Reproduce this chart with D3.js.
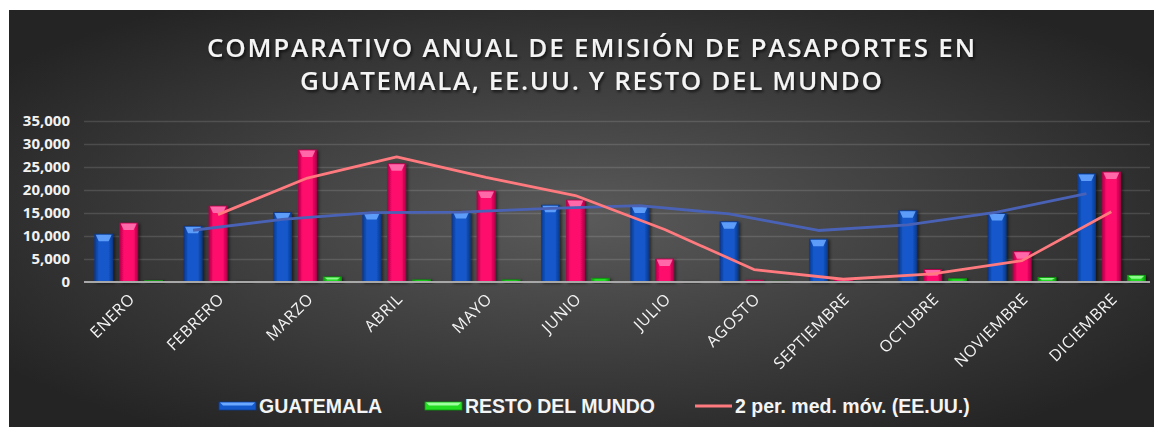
<!DOCTYPE html>
<html>
<head>
	<meta charset="utf-8">
	<title>Pasaportes</title>
	<script type="text/javascript" src="https://cdn.jsdelivr.net/npm/d3@7"></script>
	<style>
		body {
			margin: 0;
			background: #ffffff;
		}
		svg {
			display: block;
		}
	</style>
</head>

<body>

	<div id="chart"></div>

	<script>

		// data

		const months = ["ENERO", "FEBRERO", "MARZO", "ABRIL", "MAYO", "JUNIO",
			"JULIO", "AGOSTO", "SEPTIEMBRE", "OCTUBRE", "NOVIEMBRE", "DICIEMBRE"];
		const guatemala = [10400, 12100, 15100, 15100, 15300, 16700, 16500, 13100, 9300, 15500, 14900, 23500];
		const eeuu      = [12800, 16500, 28700, 25700, 19800, 17800, 5000, 400, 800, 2700, 6600, 23900];
		const resto     = [300, 100, 1100, 450, 450, 800, 100, 150, 100, 700, 1000, 1450];
		const yTicks    = [0, 5000, 10000, 15000, 20000, 25000, 30000, 35000];
		const titleLines = ["COMPARATIVO ANUAL DE EMISIÓN DE PASAPORTES EN", "GUATEMALA, EE.UU. Y RESTO DEL MUNDO"];

		// layout

		const width  = 1154;
		const height = 427;
		const box    = { x: 9, y: 10 };
		const margin = { left: 84, right: -2, top: 121, bottom: 145 };

		const colors = {
			blue:  { base: "#1459cc", dark: "#0b3a8f", light: "#6aa8ff" },
			pink:  { base: "#ff0a6c", dark: "#b8004a", light: "#ff78b4" },
			green: { base: "#22dd22", dark: "#0c9a0c", light: "#9dff9d" }
		};
		const series = [
			{ key: "gt", values: guatemala, color: colors.blue },
			{ key: "us", values: eeuu, color: colors.pink },
			{ key: "rm", values: resto, color: colors.green }
		];

		const svg = d3.select("#chart")
			.append("svg")
			.attr("width", width)
			.attr("height", height)
			.attr("viewBox", [0, 0, width, height]);

		const defs = svg.append("defs");

		const bg = defs.append("radialGradient")
			.attr("id", "bg")
			.attr("cx", "0.5").attr("cy", "0.5").attr("r", "0.62");
		bg.append("stop").attr("offset", "0%").attr("stop-color", "#5a5a5a");
		bg.append("stop").attr("offset", "100%").attr("stop-color", "#242424");

		Object.entries(colors).forEach(([name, c]) => {
			const g = defs.append("linearGradient")
				.attr("id", "grad-" + name)
				.attr("x1", "0").attr("x2", "1").attr("y1", "0").attr("y2", "0");
			g.append("stop").attr("offset", "0%").attr("stop-color", c.dark);
			g.append("stop").attr("offset", "25%").attr("stop-color", c.base);
			g.append("stop").attr("offset", "75%").attr("stop-color", c.base);
			g.append("stop").attr("offset", "100%").attr("stop-color", c.dark);
		});

		const shadow = defs.append("filter").attr("id", "shadow")
			.attr("x", "-20%").attr("y", "-20%").attr("width", "150%").attr("height", "150%");
		shadow.append("feDropShadow")
			.attr("dx", 2).attr("dy", 1).attr("stdDeviation", 1.5)
			.attr("flood-color", "#000").attr("flood-opacity", 0.55);

		const textShadow = defs.append("filter").attr("id", "tshadow")
			.attr("x", "-5%").attr("y", "-30%").attr("width", "110%").attr("height", "170%");
		textShadow.append("feDropShadow")
			.attr("dx", 1.5).attr("dy", 2).attr("stdDeviation", 1.5)
			.attr("flood-color", "#000").attr("flood-opacity", 0.7);

		// background box
		svg.append("rect")
			.attr("x", box.x).attr("y", box.y)
			.attr("width", width - box.x).attr("height", height - box.y)
			.attr("fill", "url(#bg)");

		// title
		const titleCfg = [{ y: 57, len: 768 }, { y: 90, len: 582 }];
		svg.append("g")
			.attr("filter", "url(#tshadow)")
			.selectAll("text")
			.data(titleLines)
			.join("text")
			.attr("x", 591)
			.attr("y", (d, i) => titleCfg[i].y)
			.attr("text-anchor", "middle")
			.attr("textLength", (d, i) => titleCfg[i].len)
			.attr("lengthAdjust", "spacing")
			.attr("font-family", "'Open Sans', sans-serif")
			.attr("font-weight", 600)
			.attr("font-size", 26)
			.attr("fill", "#f4f4f4")
			.text(d => d);

		// scales
		const x = d3.scaleBand(months, [margin.left, width - margin.right]);
		const xs = d3.scaleBand(series.map(s => s.key), [0, x.bandwidth()])
			.paddingInner(0.28)
			.paddingOuter(0.43);
		const y = d3.scaleLinear([0, 35000], [height - margin.bottom, margin.top]);

		// grid + y axis
		svg.append("g")
			.attr("transform", `translate(${margin.left},0)`)
			.call(d3.axisLeft(y).tickValues(yTicks).tickFormat(d3.format(",")).tickSize(0).tickPadding(14))
			.call(g => g.select(".domain").remove())
			.call(g => g.selectAll(".tick text")
				.attr("fill", "#f2f2f2")
				.attr("font-family", "'Open Sans', sans-serif")
				.attr("font-weight", 700)
				.attr("font-size", 15))
			.call(g => g.selectAll(".tick").filter(d => d > 0).append("line")
				.attr("x2", width - margin.left - 4)
				.attr("stroke", "#ffffff")
				.attr("stroke-opacity", 0.13)
				.attr("stroke-width", 1.5));

		// bars
		const groups = svg.append("g")
			.selectAll("g")
			.data(series)
			.join("g")
			.attr("filter", "url(#shadow)");

		const barData = s => s.values.map((v, i) => ({ m: months[i], v, s }));
		const bw = xs.bandwidth();

		groups.each(function (s) {
			const g = d3.select(this);
			const name = s.color === colors.blue ? "blue" : s.color === colors.pink ? "pink" : "green";
			const items = g.selectAll("g").data(barData(s)).join("g");
			items.append("rect")
				.attr("x", d => x(d.m) + xs(s.key))
				.attr("y", d => y(d.v))
				.attr("width", bw)
				.attr("height", d => y(0) - y(d.v))
				.attr("fill", `url(#grad-${name})`)
				.attr("stroke", s.color.dark)
				.attr("stroke-width", 0.8);
			// top bevel
			items.filter(d => y(0) - y(d.v) > 4).append("path")
				.attr("d", d => {
					const x0 = x(d.m) + xs(s.key), y0 = y(d.v);
					const h = Math.min(7, (y(0) - y0) / 2);
					return `M${x0 + 1},${y0 + 0.5} L${x0 + bw - 1},${y0 + 0.5} L${x0 + bw - 4},${y0 + h} L${x0 + 4},${y0 + h} Z`;
				})
				.attr("fill", s.color.light)
				.attr("opacity", 0.85);
		});

		// x axis line
		svg.append("line")
			.attr("x1", margin.left).attr("x2", width - 4)
			.attr("y1", y(0)).attr("y2", y(0))
			.attr("stroke", "#a8a8a8")
			.attr("stroke-width", 2);

		// x labels
		svg.append("g")
			.selectAll("text")
			.data(months)
			.join("text")
			.attr("transform", d => `translate(${x(d) + x.bandwidth() / 2 + 7},${y(0) + 18}) rotate(-45)`)
			.attr("text-anchor", "end")
			.attr("font-family", "'Open Sans', sans-serif")
			.attr("font-size", 16)
			.attr("letter-spacing", 0.6)
			.attr("fill", "#f4f4f4")
			.text(d => d);

		// two-period moving averages
		const movingAvg = vals => vals.map((v, i) => i === 0 ? null : (vals[i - 1] + v) / 2);
		const trend = [
			{ key: "gt", values: movingAvg(guatemala), color: "#4a62b5" },
			{ key: "us", values: movingAvg(eeuu), color: "#ff7a7e" }
		];
		const line = d3.line()
			.defined(d => d.v !== null)
			.x(d => x(d.m) + xs(d.key) + bw / 2)
			.y(d => y(d.v));
		svg.append("g")
			.selectAll("path")
			.data(trend)
			.join("path")
			.attr("d", t => line(t.values.map((v, i) => ({ m: months[i], v, key: t.key }))))
			.attr("fill", "none")
			.attr("stroke", t => t.color)
			.attr("stroke-width", 2.8)
			.attr("stroke-linejoin", "round");

		// legend
		const legendY = 406;
		const legend = [
			{ label: "GUATEMALA", x: 219, type: "bar", color: colors.blue, name: "blue" },
			{ label: "RESTO DEL MUNDO", x: 425, type: "bar", color: colors.green, name: "green" },
			{ label: "2 per. med. móv. (EE.UU.)", x: 695, type: "line", color: "#ff7a7e" }
		];
		const li = svg.append("g")
			.selectAll("g")
			.data(legend)
			.join("g")
			.attr("transform", d => `translate(${d.x},${legendY})`);
		li.filter(d => d.type === "bar").append("rect")
			.attr("x", 0).attr("y", -4).attr("width", 37).attr("height", 8)
			.attr("fill", d => d.color.base)
			.attr("stroke", d => d.color.dark)
			.attr("stroke-width", 0.8);
		li.filter(d => d.type === "bar").append("path")
			.attr("d", "M1,-3.5 L36,-3.5 L33,-0.5 L4,-0.5 Z")
			.attr("fill", d => d.color.light);
		li.filter(d => d.type === "line").append("line")
			.attr("x1", 0).attr("x2", 37)
			.attr("stroke", d => d.color)
			.attr("stroke-width", 2.8);
		li.append("text")
			.attr("x", 40)
			.attr("y", 7)
			.attr("font-family", "'Liberation Sans', Arial, sans-serif")
			.attr("font-weight", 700)
			.attr("font-size", 19.5)
			.attr("fill", "#f4f4f4")
			.text(d => d.label);

	</script>

</body>

</html>
